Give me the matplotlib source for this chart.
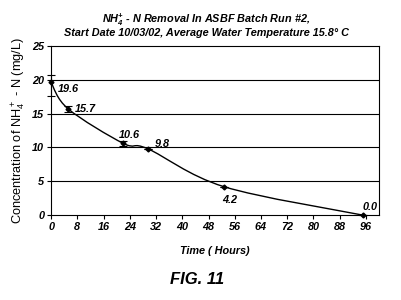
import matplotlib
matplotlib.use("Agg")
import matplotlib.pyplot as plt
from matplotlib.path import Path
from matplotlib.patches import PathPatch

hours = [0, 5.2, 22, 29.5, 52.7, 95]
nh4 = [19.6, 15.7, 10.6, 9.8, 4.2, 0.0]
err_low = [2.0, 0.45, 0.45, 0, 0, 0]
err_high = [1.1, 0.45, 0.35, 0, 0, 0]
labels = ["19.6", "15.7", "10.6", "9.8", "4.2", "0.0"]
label_offsets = [(5, -7), (5, -2), (-3, 4), (5, 1), (-1, -12), (0, 4)]
xticks = list(range(0, 97, 8))
yticks = [0, 5, 10, 15, 20, 25]

plt.rcParams["font.family"] = ["Liberation Sans", "DejaVu Sans"]
plt.rcParams["mathtext.fontset"] = "custom"
plt.rcParams["mathtext.rm"] = "Liberation Sans"
plt.rcParams["mathtext.bf"] = "Liberation Sans:bold:italic"
bi = dict(fontweight="bold", fontstyle="italic")

fig = plt.figure(figsize=(4.02, 3.0), dpi=100)
ax = fig.add_axes([0.127, 0.283, 0.816, 0.564])

for y in yticks[1:-1]:
    ax.axhline(y, color="black", linewidth=0.8, zorder=1)

# smooth curve through the points (Catmull-Rom as cubic Bezier segments)
verts = [(hours[0], nh4[0])]
codes = [Path.MOVETO]
n = len(hours)
for i in range(n - 1):
    p0 = (hours[max(i - 1, 0)], nh4[max(i - 1, 0)])
    p1 = (hours[i], nh4[i])
    p2 = (hours[i + 1], nh4[i + 1])
    p3 = (hours[min(i + 2, n - 1)], nh4[min(i + 2, n - 1)])
    c1 = (p1[0] + (p2[0] - p0[0]) / 6, p1[1] + (p2[1] - p0[1]) / 6)
    c2 = (p2[0] - (p3[0] - p1[0]) / 6, p2[1] - (p3[1] - p1[1]) / 6)
    verts += [c1, c2, p2]
    codes += [Path.CURVE4] * 3
ax.add_patch(PathPatch(Path(verts, codes), facecolor="none", edgecolor="black",
                       linewidth=1.0, zorder=3))

ax.errorbar(hours, nh4, yerr=[err_low, err_high], fmt="D", color="black",
            markersize=2.5, capsize=3, elinewidth=0.8, capthick=0.8, zorder=4,
            clip_on=False)

for x, y, lbl, off in zip(hours, nh4, labels, label_offsets):
    ax.annotate(lbl, (x, y), textcoords="offset points", xytext=off,
                fontsize=7.8, **bi)

ax.set_xlim(0, 100)
ax.set_ylim(0, 25)
ax.set_xticks(xticks)
ax.set_yticks(yticks)
ax.tick_params(direction="out", length=3, width=0.8, labelsize=7.8, pad=2)
for t in ax.get_xticklabels() + ax.get_yticklabels():
    t.set_fontweight("bold")
    t.set_fontstyle("italic")
for s in ax.spines.values():
    s.set_linewidth(0.8)

ax.set_xlabel("Time ( Hours)", fontsize=7.8, labelpad=10, **bi)
ax.set_ylabel("Concentration of NH$_4^+$ - N (mg/L)", fontsize=9.2, labelpad=3)

fig.text(0.514, 0.917,
         "NH$_\\mathbf{4}^\\mathbf{+}$ - N Removal In ASBF Batch Run #2,\n"
         "Start Date 10/03/02, Average Water Temperature 15.8° C",
         fontsize=7.8, ha="center", va="center", linespacing=1.05, **bi)

fig.text(0.49, 0.07, "FIG. 11", fontsize=12, ha="center", va="center", **bi)

fig.savefig("out.png", dpi=100)
